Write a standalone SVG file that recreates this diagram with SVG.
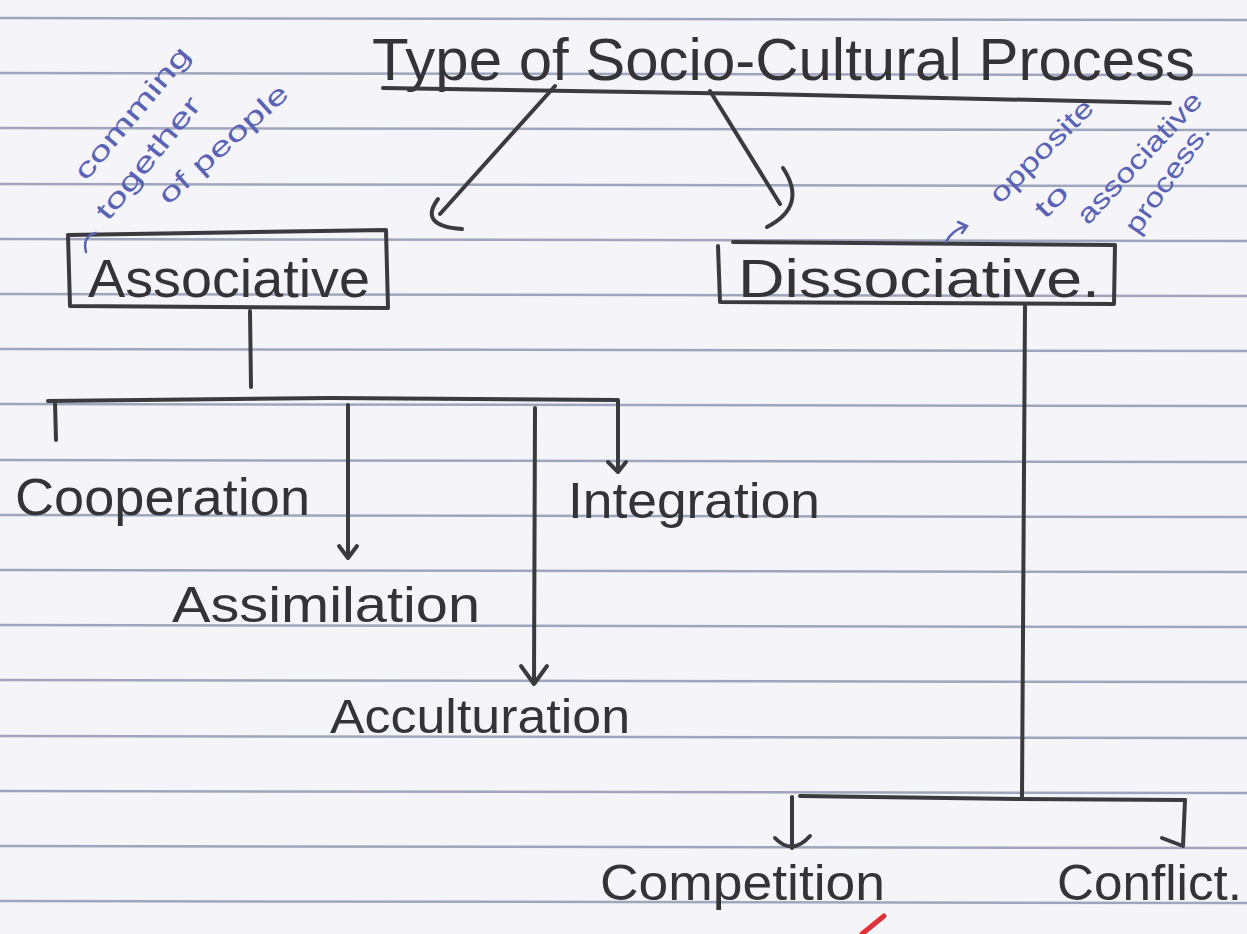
<svg xmlns="http://www.w3.org/2000/svg" width="1247" height="934" viewBox="0 0 1247 934">
  <style>
    .rule { stroke: #9ea6bd; stroke-width: 2.5; }
    .ink { fill: none; stroke: #3a3a3f; stroke-width: 4; stroke-linecap: round; stroke-linejoin: round; }
    .label { font-family: "Liberation Sans", "DejaVu Sans", sans-serif; fill: #343438; }
    .note { font-family: "Liberation Sans", "DejaVu Sans", sans-serif; fill: #5a62b3; font-size: 27px; }
    .blue { fill: none; stroke: #5a62b3; stroke-width: 2.5; stroke-linecap: round; }
  </style>

  <!-- ruled notebook page -->
  <rect x="0" y="0" width="1247" height="934" fill="#f5f4f8"/>
  <g id="page-rules">
    <line class="rule" x1="0" y1="18" x2="1247" y2="20"/>
    <line class="rule" x1="0" y1="73" x2="1247" y2="75"/>
    <line class="rule" x1="0" y1="128" x2="1247" y2="130"/>
    <line class="rule" x1="0" y1="184" x2="1247" y2="186"/>
    <line class="rule" x1="0" y1="239" x2="1247" y2="241"/>
    <line class="rule" x1="0" y1="294" x2="1247" y2="296"/>
    <line class="rule" x1="0" y1="349" x2="1247" y2="351"/>
    <line class="rule" x1="0" y1="404" x2="1247" y2="406"/>
    <line class="rule" x1="0" y1="460" x2="1247" y2="462"/>
    <line class="rule" x1="0" y1="515" x2="1247" y2="517"/>
    <line class="rule" x1="0" y1="570" x2="1247" y2="572"/>
    <line class="rule" x1="0" y1="625" x2="1247" y2="627"/>
    <line class="rule" x1="0" y1="680" x2="1247" y2="682"/>
    <line class="rule" x1="0" y1="736" x2="1247" y2="738"/>
    <line class="rule" x1="0" y1="791" x2="1247" y2="793"/>
    <line class="rule" x1="0" y1="846" x2="1247" y2="848"/>
    <line class="rule" x1="0" y1="901" x2="1247" y2="903"/>
  </g>

  <!-- heading -->
  <g id="title">
    <text class="label" x="372" y="80" font-size="60" textLength="823" lengthAdjust="spacingAndGlyphs">Type of Socio-Cultural Process</text>
    <path class="ink" d="M383 88 L760 94 L1170 103"/>
  </g>

  <!-- first-level boxes -->
  <g id="associative">
    <path class="ink" d="M68 235 L386 230 L388 308 L70 306 Z"/>
    <text class="label" x="88" y="297" font-size="54" textLength="282" lengthAdjust="spacingAndGlyphs">Associative</text>
  </g>
  <g id="dissociative">
    <path class="ink" d="M733 242 L1115 245 L1114 304 L720 302 L718 246"/>
    <text class="label" x="738" y="297" font-size="54" textLength="362" lengthAdjust="spacingAndGlyphs">Dissociative.</text>
  </g>

  <!-- associative processes -->
  <g id="cooperation">
    <text class="label" x="15" y="515" font-size="52" textLength="295" lengthAdjust="spacingAndGlyphs">Cooperation</text>
  </g>
  <g id="assimilation">
    <text class="label" x="172" y="622" font-size="50" textLength="308" lengthAdjust="spacingAndGlyphs">Assimilation</text>
  </g>
  <g id="acculturation">
    <text class="label" x="330" y="733" font-size="48" textLength="300" lengthAdjust="spacingAndGlyphs">Acculturation</text>
  </g>
  <g id="integration">
    <text class="label" x="568" y="518" font-size="50" textLength="252" lengthAdjust="spacingAndGlyphs">Integration</text>
  </g>

  <!-- dissociative processes -->
  <g id="competition">
    <text class="label" x="600" y="900" font-size="50" textLength="285" lengthAdjust="spacingAndGlyphs">Competition</text>
  </g>
  <g id="conflict">
    <text class="label" x="1057" y="900" font-size="50" textLength="185" lengthAdjust="spacingAndGlyphs">Conflict.</text>
  </g>

  <!-- margin notes -->
  <g id="note-associative">
    <text class="note" transform="translate(86,182) rotate(-50)" textLength="165" lengthAdjust="spacingAndGlyphs">comming</text>
    <text class="note" transform="translate(108,222) rotate(-51)" textLength="150" lengthAdjust="spacingAndGlyphs">together</text>
    <text class="note" transform="translate(168,206) rotate(-42)" textLength="165" lengthAdjust="spacingAndGlyphs">of people</text>
    <path class="blue" d="M86 252 Q82 236 96 233"/>
  </g>
  <g id="note-dissociative">
    <text class="note" transform="translate(1000,205) rotate(-45)" textLength="135" lengthAdjust="spacingAndGlyphs">opposite</text>
    <text class="note" transform="translate(1045,220) rotate(-45)" textLength="36" lengthAdjust="spacingAndGlyphs">to</text>
    <text class="note" transform="translate(1088,226) rotate(-47)" textLength="170" lengthAdjust="spacingAndGlyphs">associative</text>
    <text class="note" transform="translate(1138,236) rotate(-55)" textLength="128" lengthAdjust="spacingAndGlyphs">process.</text>
    <path class="blue" d="M946 242 Q952 230 966 226 M958 222 L967 226 L962 233"/>
  </g>

  <!-- connectors -->
  <g id="connectors">
    <!-- title to the two kinds -->
    <path class="ink" d="M555 86 L440 214"/>
    <path class="ink" d="M438 199 Q418 226 462 229"/>
    <path class="ink" d="M710 91 L780 204"/>
    <path class="ink" d="M783 168 Q808 206 767 227"/>

    <!-- associative branch -->
    <path class="ink" d="M250 311 L251 387"/>
    <path class="ink" d="M48 401 L330 398 L618 400 L618 470"/>
    <path class="ink" d="M55 402 L56 440"/>
    <path class="ink" d="M348 405 L348 557"/>
    <path class="ink" d="M339 546 L348 558 L357 546"/>
    <path class="ink" d="M535 408 L534 683"/>
    <path class="ink" d="M521 666 L534 684 L547 666"/>
    <path class="ink" d="M608 462 L618 472 L626 462"/>

    <!-- dissociative branch -->
    <path class="ink" d="M1025 306 L1022 797"/>
    <path class="ink" d="M800 796 L1020 799 L1185 800"/>
    <path class="ink" d="M792 797 L792 848"/>
    <path class="ink" d="M775 838 Q792 856 810 836"/>
    <path class="ink" d="M1185 800 L1183 846 L1162 838"/>
  </g>

  <!-- red tick at the page foot -->
  <path d="M862 934 L884 916" stroke="#e0303a" stroke-width="5" stroke-linecap="round" fill="none"/>
</svg>
